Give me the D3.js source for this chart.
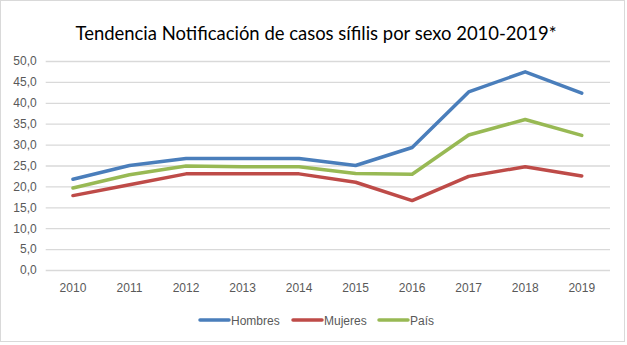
<!DOCTYPE html>
<html><head><meta charset="utf-8">
<script src="https://cdn.jsdelivr.net/npm/d3@7"></script>
<style>body{margin:0;background:#fff}svg{display:block}</style>
</head><body><svg id="c" width="627" height="345"></svg>
<script>
const years = ["2010","2011","2012","2013","2014","2015","2016","2017","2018","2019"];
const hombres = [21.7,25.0,26.7,26.7,26.7,25.0,29.3,42.6,47.4,42.3];
const mujeres = [17.8,20.4,23.0,23.0,23.0,21.0,16.6,22.4,24.7,22.5];
const pais    = [19.6,22.8,24.9,24.7,24.7,23.1,22.9,32.3,36.0,32.2];
const yTicks = [0,5,10,15,20,25,30,35,40,45,50];
const seriesNames = ["Hombres","Mujeres","País"];
const colors = ["#4a7ebb","#be4b48","#98b954"];

const svg = d3.select("#c");
svg.append("rect").attr("x",0.5).attr("y",0.5).attr("width",624).attr("height",341)
  .attr("fill","#fff").attr("stroke","#d9d9d9");

const x = d3.scaleBand().domain(years).range([44.7,610]);
const y = d3.scaleLinear().domain([0,50]).range([270,61]);

// gridlines
const yAxis = d3.axisLeft(y).tickValues(yTicks).tickSize(-(610-45.7)).tickPadding(9)
  .tickFormat(d => d3.format(".1f")(d).replace(".", ","));
const gy = svg.append("g").attr("transform","translate(45.7,0)").call(yAxis);
gy.select(".domain").remove();
gy.selectAll(".tick line").attr("stroke","#d9d9d9").attr("stroke-width",1.3);
gy.selectAll(".tick text").attr("fill","#595959").style("font-family","'Liberation Sans', Arial, sans-serif").style("font-size","12px");

const gx = svg.append("g").attr("transform","translate(0,270)").call(d3.axisBottom(x).tickSize(0).tickPadding(13));
gx.select(".domain").remove();
gx.selectAll(".tick text").attr("fill","#595959").style("font-family","'Liberation Sans', Arial, sans-serif").style("font-size","12px");

const data = [hombres, mujeres, pais];
const line = d3.line().x((d,i)=>x(years[i])+x.bandwidth()/2).y(d=>y(d));
data.forEach((s,k)=>{
  svg.append("path").attr("d",line(s)).attr("fill","none").attr("stroke",colors[k])
    .attr("stroke-width",3.5).attr("stroke-linejoin","round").attr("stroke-linecap","round");
});

svg.append("text").attr("x",316).attr("y",40).attr("text-anchor","middle")
  .attr("textLength",481).attr("lengthAdjust","spacingAndGlyphs")
  .style("font-family","Lato, 'Liberation Sans', sans-serif").style("font-size","20px").attr("fill","#000")
  .text("Tendencia Notificación de casos sífilis por sexo 2010-2019*");

const legX = [200,293,379];
seriesNames.forEach((n,k)=>{
  const g = svg.append("g").attr("transform",`translate(${legX[k]},320)`);
  g.append("line").attr("x1",0).attr("x2",29).attr("stroke",colors[k]).attr("stroke-width",3.5).attr("stroke-linecap","round");
  g.append("text").attr("x",31).attr("y",4.5).attr("fill","#595959")
    .style("font-family","'Liberation Sans', Arial, sans-serif").style("font-size","12px").text(n);
});
</script></body></html>
